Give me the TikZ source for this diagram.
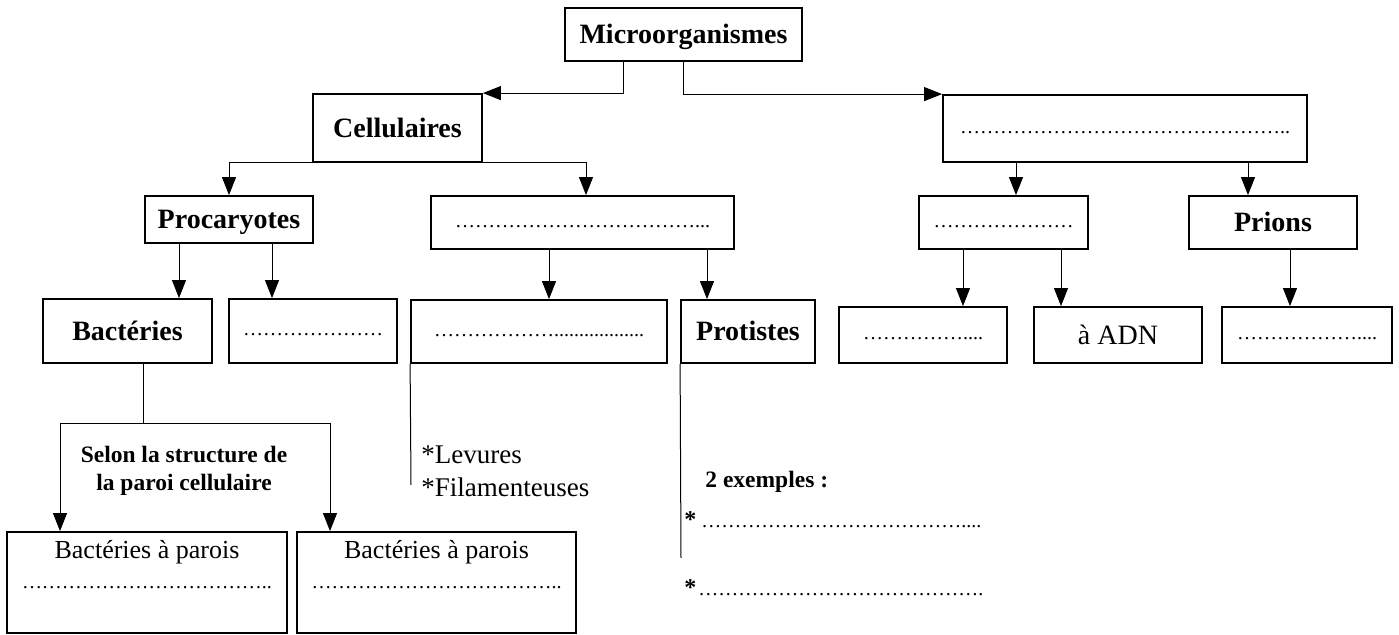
\documentclass[tikz,border=0pt]{standalone}
\usepackage{fontspec}
\setmainfont{Liberation Serif}
\usetikzlibrary{arrows.meta}
\begin{document}
\begin{tikzpicture}[x=0.5pt,y=-0.5pt,
  box/.style={draw,line width=0.9pt,inner sep=0pt},
  bx/.style 2 args={minimum width=#1*0.5pt,minimum height=#2*0.5pt},
  hb/.style={font=\bfseries\fontsize{14}{17}\selectfont,text height=9.2pt,text depth=0pt},
  rg/.style={font=\fontsize{14}{17}\selectfont,text height=9.2pt,text depth=0pt},
  dt/.style={font=\fontsize{10}{12}\selectfont,text height=5pt,text depth=0pt},
  ln/.style={line width=0.5pt},
  arr/.style={ln,-{Triangle[length=9pt,width=7pt]}},
  small/.style={font=\bfseries\fontsize{11.75}{14}\selectfont},
  note/.style={font=\fontsize{13.5}{16.5}\selectfont}]
\useasboundingbox[fill=white] (0,0) rectangle (1399,635);
% arrow columns
\coordinate (k623) at (623,0);
\coordinate (k683) at (683,0);
\coordinate (k586) at (586,0);
\coordinate (k1016) at (1016,0);
\coordinate (k1248) at (1248,0);
\coordinate (k179) at (179,0);
\coordinate (k272) at (272,0);
\coordinate (k549) at (549,0);
\coordinate (k707) at (707,0);
\coordinate (k963) at (963,0);
\coordinate (k1061) at (1061,0);
\coordinate (k1290) at (1290,0);
\coordinate (k143) at (143,0);
% boxes
\node[box,bx={237}{53},hb] (micro) at (683.5,34.5) {Microorganismes};
\node[box,bx={169}{68},hb] (cell) at (397.5,128) {Cellulaires};
\node[box,bx={364}{67},dt] (viru) at (1125,128.5) {…………………………………………..};
\node[box,bx={168}{47},hb] (proc) at (229,219.5) {Procaryotes};
\node[box,bx={303}{53},dt] (euk) at (582.5,222.5) {………………………………...};
\node[box,bx={169}{53},dt] (vir2) at (1003.5,222.5) {…………………};
\node[box,bx={168}{53},hb] (prions) at (1273,222.5) {Prions};
\node[box,bx={169}{64},hb] (bact) at (127.5,331) {Bactéries};
\node[box,bx={168}{64},dt] (pdots) at (313,331) {…………………};
\node[box,bx={256}{63},dt] (fungi) at (539,331.5) {………………..................};
\node[box,bx={134}{63},hb] (prot) at (748,331.5) {Protistes};
\node[box,bx={168}{56},dt] (r3a) at (923,335) {……………....};
\node[box,bx={168}{56},rg] (r3b) at (1118,335) {à ADN};
\node[box,bx={170}{56},dt] (r3c) at (1307,335) {………………....};
\node[box,bx={280}{101}] (bl) at (147,582.5) {\parbox[c][50.5pt][t]{140pt}{\centering\vspace*{4.3pt}{\fontsize{13}{14.5}\selectfont Bactéries à parois}\\[3pt]{\fontsize{10}{12}\selectfont ………………………………..}}};
\node[box,bx={279}{101}] (br) at (436.5,582.5) {\parbox[c][50.5pt][t]{139.5pt}{\centering\vspace*{4.3pt}{\fontsize{13}{14.5}\selectfont Bactéries à parois}\\[3pt]{\fontsize{10}{12}\selectfont ………………………………..}}};
% free texts
\node[small,align=center] (sel) at (184,471) {Selon la structure de\\la paroi cellulaire};
\node[note,align=left,anchor=west,inner sep=0pt] (lev) at (421,471.5) {*Levures\\*Filamenteuses};
\node[small,anchor=west,inner sep=0pt] (ex) at (705,482) {2 exemples :};
\node[anchor=base west,inner sep=0pt] (ex1) at (684,528) {{\bfseries\fontsize{12}{14}\selectfont *}\ {\fontsize{10}{12}\selectfont …………………………………....}};
\node[anchor=base west,inner sep=0pt] (ex2) at (684,596) {{\bfseries\fontsize{12}{14}\selectfont *}\hspace{1pt}{\fontsize{10}{12}\selectfont …………………………………….}};
% connector end points
\coordinate (bj) at (143,424);
\coordinate (bL) at (60,424);
\coordinate (bR) at (330,424);
\coordinate (fend) at (411,485);
\coordinate (pend) at (681,558);
% connectors
\draw[arr] (micro.south -| k623) |- (cell.north east);
\draw[arr] (micro.south -| k683) |- (viru.north west);
\draw[arr] (cell.south west) -| (proc.north);
\draw[arr] (cell.south east) -| (euk.north -| k586);
\draw[arr] (viru.south -| k1016) -- (vir2.north -| k1016);
\draw[arr] (viru.south -| k1248) -- (prions.north -| k1248);
\draw[arr] (proc.south -| k179) -- (bact.north -| k179);
\draw[arr] (proc.south -| k272) -- (pdots.north -| k272);
\draw[arr] (euk.south -| k549) -- (fungi.north -| k549);
\draw[arr] (euk.south -| k707) -- (prot.north -| k707);
\draw[arr] (vir2.south -| k963) -- (r3a.north -| k963);
\draw[arr] (vir2.south -| k1061) -- (r3b.north -| k1061);
\draw[arr] (prions.south -| k1290) -- (r3c.north -| k1290);
\draw[ln] (bact.south -| k143) -- (bj);
\draw[arr] (bj) -- (bL) -- (bl.north -| bL);
\draw[arr] (bj) -- (bR) -- (br.north -| bR);
\draw[ln] (fungi.south west) -- (fend);
\draw[ln] (prot.south west) -- (pend);
\end{tikzpicture}
\end{document}
